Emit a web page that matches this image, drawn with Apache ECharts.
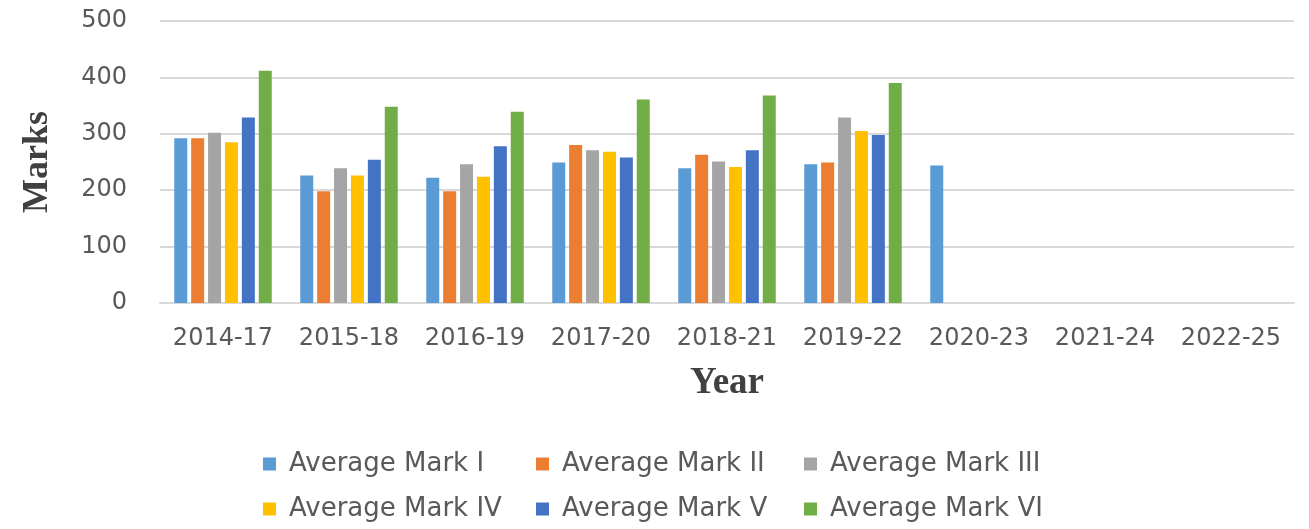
<!DOCTYPE html>
<html>
<head>
<meta charset="utf-8">
<script src="https://cdn.jsdelivr.net/npm/echarts@6/dist/echarts.min.js"></script>
<style>html,body{margin:0;padding:0;background:#fff}#c{width:1309px;height:529px}</style>
</head>
<body>
<div id="c"></div>
<script>
const categories = ['2014-17','2015-18','2016-19','2017-20','2018-21','2019-22','2020-23','2021-24','2022-25'];
const markI   = [292, 226, 222, 249, 239, 246, 244, null, null];
const markII  = [292, 198, 198, 280, 263, 249, null, null, null];
const markIII = [302, 239, 246, 271, 251, 329, null, null, null];
const markIV  = [285, 226, 224, 268, 241, 305, null, null, null];
const markV   = [329, 254, 278, 258, 271, 298, null, null, null];
const markVI  = [412, 348, 339, 361, 368, 390, null, null, null];
const seriesNames = ['Average Mark I','Average Mark II','Average Mark III','Average Mark IV','Average Mark V','Average Mark VI'];
const seriesData = [markI, markII, markIII, markIV, markV, markVI];
const colors = ['#5B9BD5','#ED7D31','#A5A5A5','#FFC000','#4472C4','#70AD47'];

const chart = echarts.init(document.getElementById('c'));
const legendText = {fontFamily:'DejaVu Sans', fontSize:26, color:'#595959', padding:[0,0,0,8]};
const colLeft = [258, 531, 799];
const rowTop = [446, 491];
const legends = seriesNames.map((n,i)=>({
  data:[n], left:colLeft[i%3], top:rowTop[Math.floor(i/3)],
  itemWidth:13, itemHeight:13, icon:'rect', textStyle:legendText
}));
chart.setOption({
  animation:false,
  color: colors,
  grid:{left:160, right:15, top:21, bottom:226, containLabel:false},
  legend: legends,
  xAxis:{
    type:'category', data:categories,
    axisLine:{lineStyle:{color:'#D9D9D9', width:2}},
    axisTick:{show:false},
    axisLabel:{fontFamily:'DejaVu Sans', fontSize:24, color:'#595959', margin:24, interval:0},
    name:'Year', nameLocation:'middle', nameGap:62,
    nameTextStyle:{fontFamily:'Liberation Serif', fontWeight:'bold', fontSize:37, color:'#404040'}
  },
  yAxis:{
    type:'value', min:0, max:500, interval:100,
    axisLine:{show:false}, axisTick:{show:false},
    splitLine:{lineStyle:{color:'#D9D9D9', width:2}},
    axisLabel:{fontFamily:'DejaVu Sans', fontSize:24, color:'#595959', margin:33},
    name:'Marks', nameLocation:'middle', nameGap:104,
    nameTextStyle:{fontFamily:'Liberation Serif', fontWeight:'bold', fontSize:36, color:'#404040'}
  },
  series: seriesData.map((d,i)=>({
    name:seriesNames[i], type:'bar', data:d, barWidth:13, barGap:'30%'
  }))
});
</script>
</body>
</html>
